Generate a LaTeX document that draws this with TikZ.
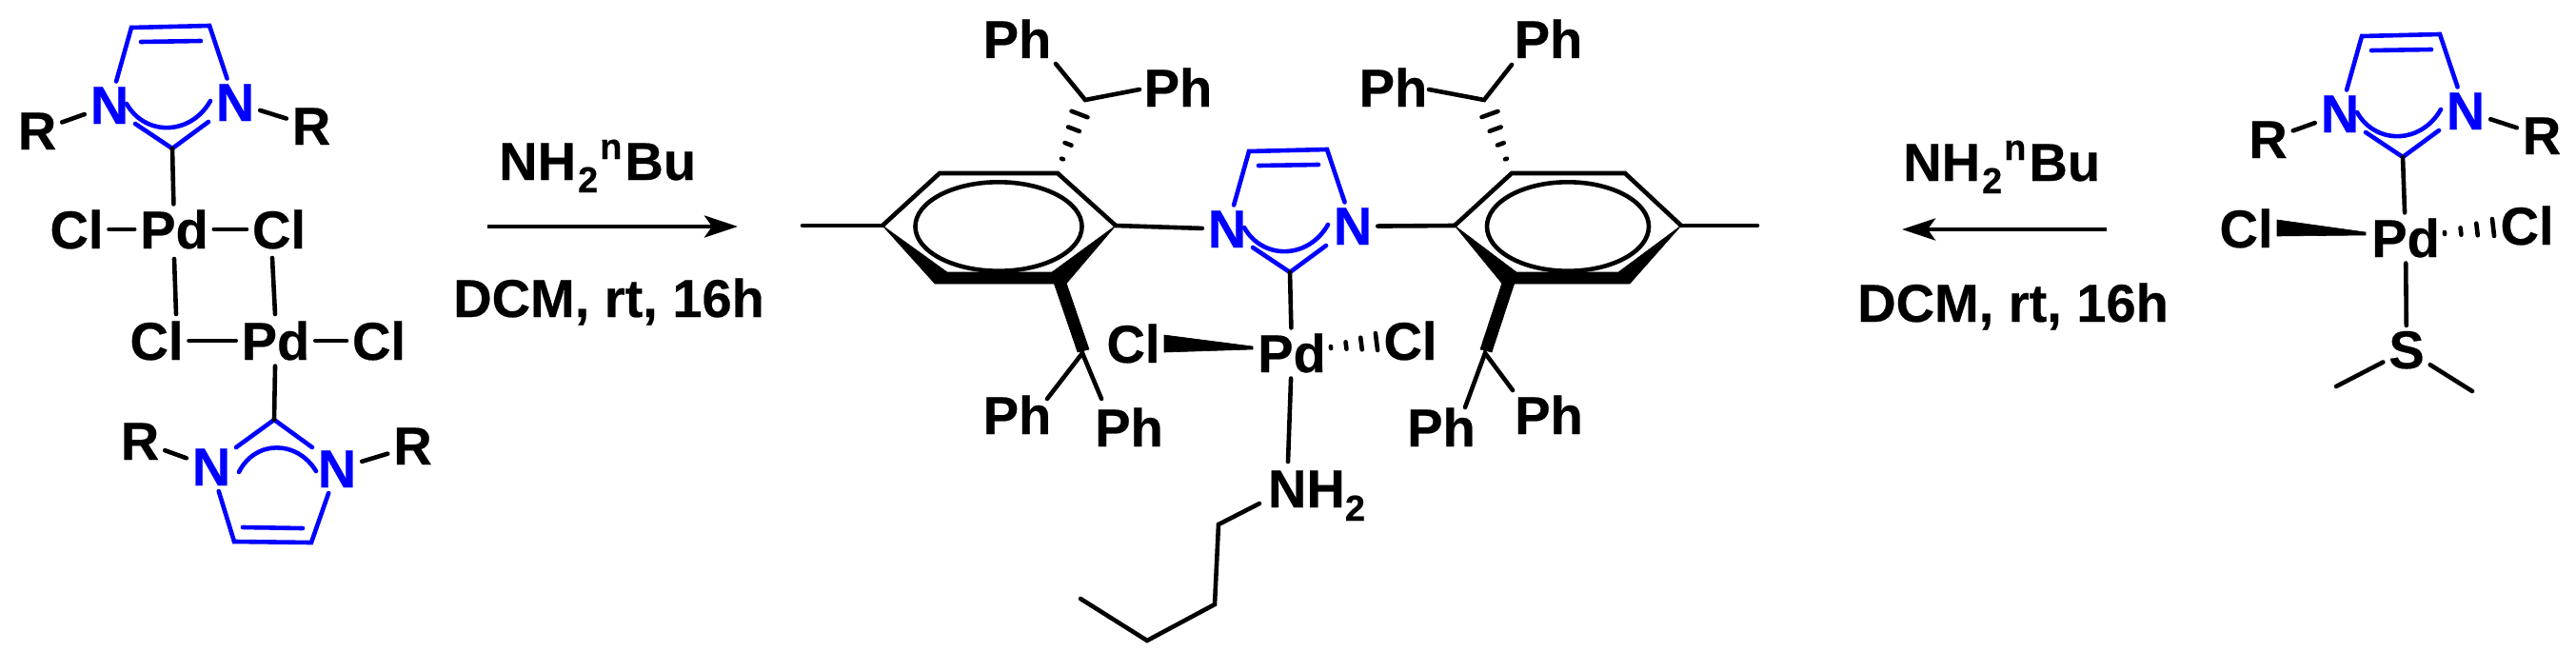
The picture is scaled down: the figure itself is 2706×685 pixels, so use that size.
\documentclass[tikz,border=0pt]{standalone}
\usepackage{fontspec}
\setmainfont{Liberation Sans}[BoldFeatures={FakeBold=0.4}]
\usetikzlibrary{calc,arrows.meta}
\definecolor{ringblue}{RGB}{0,0,255}
\tikzset{
  atom/.style={inner sep=0pt,outer sep=6pt,anchor=base,font=\fontsize{56}{60}\selectfont\bfseries,text=black},
  blueatom/.style={atom,text=ringblue},
  reagent/.style={inner sep=0pt,anchor=base west,font=\fontsize{56}{60}\selectfont\bfseries},
  bond/.style={draw=black,line width=4.6pt,line cap=round,line join=miter},
  bluebond/.style={draw=ringblue,line width=4.6pt,line cap=round,line join=miter},
  solidwedge/.style={fill=black,draw=black,line width=0.6pt,line join=round},
  hashtick/.style={draw=black,line width=4.6pt,line cap=round},
  rxnarrow/.style={draw=black,line width=4.6pt,-{Stealth[length=35pt,width=23pt,inset=8pt]}}
}
\newcommand{\smallsize}{\fontsize{38}{40}\selectfont}
\newcommand{\aminelabel}{NH\hspace{2pt}\raisebox{-13pt}{\smallsize 2}\hspace{2pt}\raisebox{22pt}{\smallsize n}\hspace{3pt}Bu}
\newcommand{\hashbond}[4]{%
  \coordinate (hx) at ($(#1)!1.5!(#2)$);
  \foreach \hf in {0,0.2222,0.4444,0.6667}{%
    \pgfmathsetmacro\hw{#3+(#4-#3)*\hf/0.6667}
    \draw[hashtick] ($(#1)!\hf!(hx)!\hw pt!90:(hx)$) -- ($(#1)!\hf!(hx)!\hw pt!-90:(hx)$);
  }%
}
% imidazolium ring opening upward; carbene carbon at the bottom
\newcommand{\upring}[3]{%
  \begin{scope}[shift={(#2,#3)}]
    \node[blueatom] (#1nl) at (115,130) {N};
    \node[blueatom] (#1nr) at (247,127) {N};
    \coordinate (#1c4) at (138,29);
    \coordinate (#1c5) at (220,27);
    \coordinate (#1d1) at (148,44);
    \coordinate (#1d2) at (211,43);
    \coordinate (#1a1) at (133,109);
    \coordinate (#1a2) at (221,106);
    \coordinate (#1v1) at (142,130);
    \coordinate (#1cc) at (181,156);
    \coordinate (#1v2) at (219,128);
    \draw[bluebond] (#1nl) -- (#1c4) -- (#1c5) -- (#1nr);
    \draw[bluebond] (#1d1) -- (#1d2);
    \draw[bluebond] (#1a1) .. controls (152,143) and (200,143) .. (#1a2);
    \draw[bluebond] (#1v1) -- (#1cc) -- (#1v2);
  \end{scope}%
}
\begin{document}
\begin{tikzpicture}[x=1pt,y=-1pt]
\useasboundingbox (0,0) rectangle (2706,685);

%% ---------- left dimer ----------
\upring{ta}{0}{0}
\node[atom] (taRl) at (39,157) {R};
\node[atom] (taRr) at (327,152) {R};
\draw[bond] (taRl) -- (tanl);
\draw[bond] (tanr) -- (taRr);
\node[atom] (clA) at (80.5,261) {Cl};
\node[atom] (pdA) at (183,261) {Pd};
\node[atom] (clB) at (293,261) {Cl};
\draw[bond] (clA) -- (pdA);
\draw[bond] (pdA) -- (clB);
\draw[bond] (tacc) -- (pdA);
\node[atom] (clC) at (164.5,378) {Cl};
\node[atom] (pdB) at (289.5,378) {Pd};
\node[atom] (clD) at (398,378) {Cl};
\draw[bond] (clC) -- (pdB);
\draw[bond] (pdB) -- (clD);
\coordinate (brA1) at (183,272);
\coordinate (brA2) at (185,330);
\coordinate (brB1) at (286,271);
\coordinate (brB2) at (289,330);
\draw[bond] (brA1) -- (brA2);
\draw[bond] (brB1) -- (brB2);
% lower ring
\node[blueatom] (bnl) at (222,510) {N};
\node[blueatom] (bnr) at (354,512) {N};
\node[atom] (bRl) at (147,483) {R};
\node[atom] (bRr) at (433.5,488) {R};
\coordinate (bc4) at (246,569);
\coordinate (bc5) at (327,570);
\coordinate (bd1) at (255,554);
\coordinate (bd2) at (318,555);
\coordinate (ba1) at (251,496);
\coordinate (ba2) at (332,495);
\coordinate (bv1) at (248,470);
\coordinate (bcc) at (288,441);
\coordinate (bv2) at (328,470);
\draw[bluebond] (bnl) -- (bc4) -- (bc5) -- (bnr);
\draw[bluebond] (bd1) -- (bd2);
\draw[bluebond] (ba1) .. controls (268,462) and (312,462) .. (ba2);
\draw[bluebond] (bv1) -- (bcc) -- (bv2);
\draw[bond] (pdB) -- (bcc);
\draw[bond] (bRl) -- (bnl);
\draw[bond] (bnr) -- (bRr);

%% ---------- left arrow ----------
\node[reagent] (reaA) at (524,189) {\aminelabel};
\node[reagent] (conA) at (476,333) {DCM, rt, 16h};
\coordinate (arAs) at (512,238);
\coordinate (arAe) at (775,238);
\draw[rxnarrow] (arAs) -- (arAe);

%% ---------- central complex ----------
\upring{ce}{1174}{130}
\node[atom] (pdC) at (1357,391) {Pd};
\node[atom] (clE) at (1190.5,381) {Cl};
\node[atom] (clF) at (1481.5,378) {Cl};
\draw[bond] (cecc) -- (pdC);
\coordinate (wEa) at (1223,352);
\coordinate (wEb) at (1223,370);
\coordinate (wEc) at (1316,367);
\coordinate (wEd) at (1316,364);
\fill[solidwedge] (wEa) -- (wEd) -- (wEc) -- (wEb) -- cycle;
\coordinate (hEa) at (1398,365);
\coordinate (hEb) at (1446,359);
\hashbond{hEa}{hEb}{1}{9}
% amine and butyl chain
\node[atom,anchor=base west,outer sep=0pt] (nh) at (1332,533) {NH\raisebox{-14pt}{\smallsize 2}};
\coordinate (nhTop) at (1353,485);
\draw[bond] (pdC) -- (nhTop);
\coordinate (bu0) at (1323,529);
\coordinate (bu1) at (1280,551);
\coordinate (bu2) at (1276,635);
\coordinate (bu3) at (1205,673);
\coordinate (bu4) at (1135,629);
\draw[bond] (bu0) -- (bu1) -- (bu2) -- (bu3) -- (bu4);

% left aryl
\coordinate (la1) at (927,237);
\coordinate (la2) at (987,182);
\coordinate (la3) at (1111,182);
\coordinate (la4) at (1172,237);
\coordinate (la5i) at (1105,286);
\coordinate (la5o) at (1120,298);
\coordinate (la6o) at (982,298);
\coordinate (la6i) at (995,286);
\coordinate (laMe) at (843,237);
\draw[bond] (la1) -- (la2) -- (la3) -- (la4);
\fill[solidwedge] (la1) -- (la6i) -- (la5i) -- (la4) -- (la5o) -- (la6o) -- cycle;
\draw[bond] (laMe) -- (la1);
\draw[bond] (la4) -- (cenl);
\draw[black,line width=4.6pt] (1049,238) ellipse [x radius=87.5pt,y radius=46.7pt];
% upper CHPh2, left
\node[atom] (phA) at (1068.5,61) {Ph};
\node[atom] (phB) at (1237.5,112) {Ph};
\coordinate (laC) at (1140,105);
\coordinate (laP1) at (1109,67);
\coordinate (laP2) at (1197,94);
\draw[bond] (laP1) -- (laC) -- (laP2);
\coordinate (lhA) at (1116,167);
\coordinate (lhB) at (1134,120);
\hashbond{lhA}{lhB}{1}{9}
% lower CHPh2, left
\node[atom] (phC) at (1068.5,456) {Ph};
\node[atom] (phD) at (1186,469) {Ph};
\coordinate (lbA) at (1107,297);
\coordinate (lbB) at (1120,297);
\coordinate (lbC) at (1144,367);
\coordinate (lbD) at (1132,370);
\fill[solidwedge] (lbA) -- (lbB) -- (lbC) -- (lbD) -- cycle;
\coordinate (lbE) at (1137,371);
\coordinate (lbP1) at (1100,419);
\coordinate (lbP2) at (1157,419);
\draw[bond] (lbP1) -- (lbE) -- (lbP2);

% right aryl
\coordinate (ra1) at (1528,237);
\coordinate (ra2) at (1588,182);
\coordinate (ra3) at (1707,182);
\coordinate (ra4) at (1766,237);
\coordinate (ra5i) at (1700,286);
\coordinate (ra5o) at (1712,298);
\coordinate (ra6o) at (1578,298);
\coordinate (ra6i) at (1593,286);
\coordinate (raMe) at (1846,237);
\draw[bond] (ra1) -- (ra2) -- (ra3) -- (ra4);
\fill[solidwedge] (ra1) -- (ra6i) -- (ra5i) -- (ra4) -- (ra5o) -- (ra6o) -- cycle;
\draw[bond] (ra4) -- (raMe);
\draw[bond] (cenr) -- (ra1);
\draw[black,line width=4.6pt] (1647,238) ellipse [x radius=85pt,y radius=46.7pt];
% upper CHPh2, right
\node[atom] (phE) at (1463.5,112) {Ph};
\node[atom] (phF) at (1626.5,61) {Ph};
\coordinate (raC) at (1559,105);
\coordinate (raP1) at (1588,68);
\coordinate (raP2) at (1501,94);
\draw[bond] (raP1) -- (raC) -- (raP2);
\coordinate (rhA) at (1582,167);
\coordinate (rhB) at (1565,120);
\hashbond{rhA}{rhB}{1}{9}
% lower CHPh2, right
\node[atom] (phG) at (1514,469) {Ph};
\node[atom] (phH) at (1627,456) {Ph};
\coordinate (rbA) at (1578,297);
\coordinate (rbB) at (1591,297);
\coordinate (rbC) at (1567,370);
\coordinate (rbD) at (1555,367);
\fill[solidwedge] (rbA) -- (rbB) -- (rbC) -- (rbD) -- cycle;
\coordinate (rbE) at (1560,371);
\coordinate (rbP1) at (1539,428);
\coordinate (rbP2) at (1589,410);
\draw[bond] (rbP1) -- (rbE) -- (rbP2);

%% ---------- right arrow ----------
\node[reagent] (reaB) at (1999,190) {\aminelabel};
\node[reagent] (conB) at (1951,338) {DCM, rt, 16h};
\coordinate (arBs) at (2213,241);
\coordinate (arBe) at (1998,241);
\draw[rxnarrow] (arBs) -- (arBe);

%% ---------- right complex ----------
\upring{ri}{2343}{9}
\node[atom] (riRl) at (2382.5,166) {R};
\node[atom] (riRr) at (2670,162) {R};
\draw[bond] (riRl) -- (rinl);
\draw[bond] (rinr) -- (riRr);
\node[atom] (pdD) at (2527,270) {Pd};
\node[atom] (clG) at (2359.5,260) {Cl};
\node[atom] (clH) at (2654.5,257) {Cl};
\draw[bond] (ricc) -- (pdD);
\coordinate (wGa) at (2392,231);
\coordinate (wGb) at (2392,248);
\coordinate (wGc) at (2485,247);
\coordinate (wGd) at (2485,244);
\fill[solidwedge] (wGa) -- (wGd) -- (wGc) -- (wGb) -- cycle;
\coordinate (hGa) at (2568,245);
\coordinate (hGb) at (2619,239);
\hashbond{hGa}{hGb}{1}{9}
\node[atom] (sA) at (2528,387) {S};
\coordinate (meA) at (2454,406);
\coordinate (meB) at (2597,411);
\draw[bond] (pdD) -- (sA);
\draw[bond] (sA) -- (meA);
\draw[bond] (sA) -- (meB);
\end{tikzpicture}
\end{document}
